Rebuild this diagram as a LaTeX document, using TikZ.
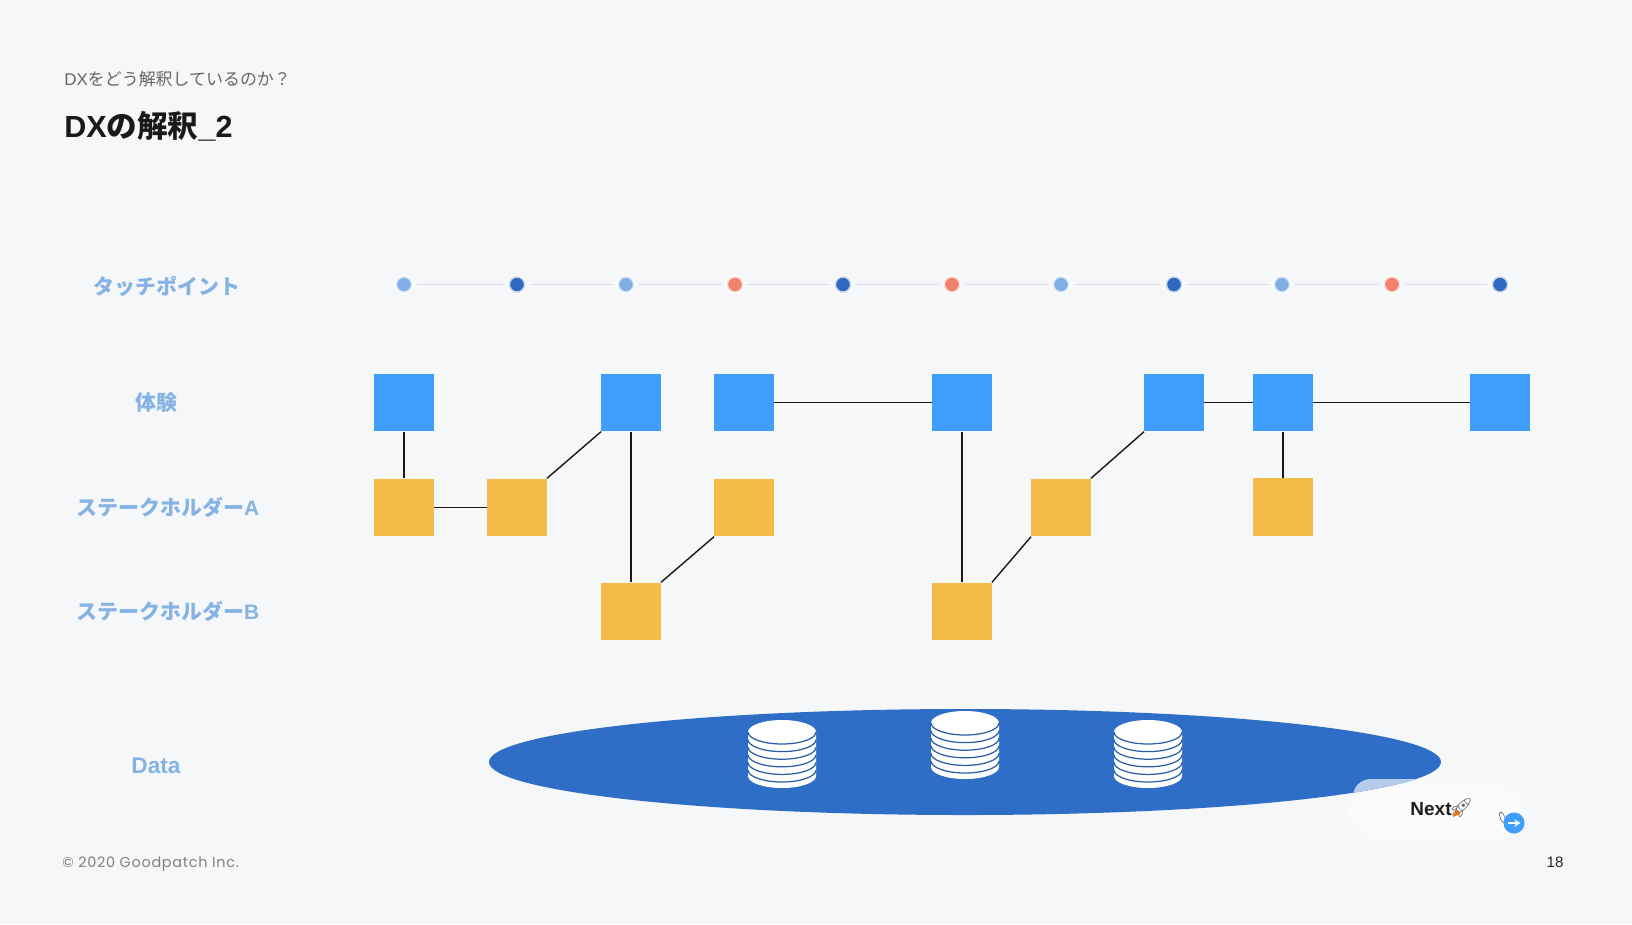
\documentclass[tikz,border=0pt]{standalone}
\usepackage{fontspec}
\setmainfont{Noto Sans CJK JP}
\newfontfamily\emojifont{Noto Emoji}
\newfontfamily\latinfont{Liberation Sans}
\newfontfamily\copyfont[LetterSpace=5]{Poppins}
\usetikzlibrary{arrows.meta}
\definecolor{bgcol}{HTML}{F6F7F8}
\definecolor{bluecol}{HTML}{3F9EFB}
\definecolor{yellowcol}{HTML}{F4BB49}
\definecolor{labelcol}{HTML}{86B2E4}
\definecolor{lightdot}{HTML}{80AEE5}
\definecolor{darkdot}{HTML}{2F68C0}
\definecolor{coraldot}{HTML}{F0826E}
\definecolor{poolcol}{HTML}{2F6EC6}
\definecolor{dotlinecol}{HTML}{D9DEEA}
\tikzset{
    bluebox/.style={fill=bluecol, minimum width=33.7pt, minimum height=32.8pt, inner sep=0pt},
    yellowbox/.style={fill=yellowcol, minimum width=33.7pt, minimum height=32.8pt, inner sep=0pt},
    touchdot/.style={circle, draw=white, draw opacity=0.75, line width=1.8pt, minimum size=9.6pt, inner sep=0pt},
    dotline/.style={draw=dotlinecol, line width=0.55pt, shorten >=1.5pt, shorten <=1.5pt},
    boxline/.style={draw=black!90, line width=0.8pt},
    rowlabel/.style={text=labelcol, font=\bfseries\fontsize{11.9}{14}\selectfont},
    datastack/.pic={
        \fill[white] (-34,-22) arc[start angle=180, end angle=360, x radius=34, y radius=12]
            -- (34,22) arc[start angle=0, end angle=180, x radius=34, y radius=12] -- cycle;
        \foreach \k in {0,...,5}
            \draw[poolcol!85!black, line width=0.7pt] (-34,{-22+7.6*\k}) arc[start angle=180, end angle=0, x radius=34, y radius=12];
    }
}
\begin{document}
\begin{tikzpicture}[x=0.02cm, y=-0.02cm]
    \fill[bgcol] (0,0) rectangle (1632,924);
    \useasboundingbox (0,0) rectangle (1632,924);

    % 見出し
    \node (subtitle) at (64,79) [anchor=west, inner sep=0pt, text=black!60, font=\fontsize{9.65}{12}\selectfont] {{\latinfont DX}をどう解釈しているのか？};
    \node (title) at (64,126) [anchor=west, inner sep=0pt, text=black!90, font=\bfseries\fontsize{17.4}{20}\selectfont] {{\latinfont DX}の解釈{\latinfont\_2}};

    % 行ラベル
    \node (labeltouch) at (167,286) [rowlabel] {タッチポイント};
    \node (labelexp) at (156,402.5) [rowlabel] {体験};
    \node (labela) at (168,507) [rowlabel] {ステークホルダー{\latinfont A}};
    \node (labelb) at (168,611) [rowlabel] {ステークホルダー{\latinfont B}};
    \node (labeldata) at (156,766) [rowlabel, font=\bfseries\latinfont\fontsize{12.9}{14}\selectfont] {Data};

    % タッチポイント
    \foreach \x/\c [count=\i] in {404/lightdot,517/darkdot,626/lightdot,735/coraldot,843/darkdot,952/coraldot,1061/lightdot,1174/darkdot,1282/lightdot,1392/coraldot,1500/darkdot}
        \node (dot\i) at (\x,284.5) [touchdot, fill=\c] {};
    \foreach \i [remember=\i as \j (initially 1)] in {2,...,11}
        \draw[dotline] (dot\j) -- (dot\i);

    % 体験
    \node (exp1) at (404,402.5) [bluebox] {};
    \node (exp2) at (631,402.5) [bluebox] {};
    \node (exp3) at (744,402.5) [bluebox] {};
    \node (exp4) at (962,402.5) [bluebox] {};
    \node (exp5) at (1174,402.5) [bluebox] {};
    \node (exp6) at (1283,402.5) [bluebox] {};
    \node (exp7) at (1500,402.5) [bluebox] {};

    % ステークホルダー
    \node (sa1) at (404,507.5) [yellowbox] {};
    \node (sa2) at (517,507.5) [yellowbox] {};
    \node (sa3) at (744,507.5) [yellowbox] {};
    \node (sa4) at (1061,507.5) [yellowbox] {};
    \node (sa5) at (1283,507) [yellowbox] {};
    \node (sb1) at (631,611.5) [yellowbox] {};
    \node (sb2) at (962,611.5) [yellowbox] {};

    \draw[boxline] (exp1) -- (sa1);
    \draw[boxline] (sa1) -- (sa2);
    \draw[boxline] (sa2.north east) -- (exp2.south west);
    \draw[boxline] (exp2) -- (sb1);
    \draw[boxline] (sb1.north east) -- (sa3.south west);
    \draw[boxline] (exp3) -- (exp4);
    \draw[boxline] (exp4) -- (sb2);
    \draw[boxline] (sb2.north east) -- (sa4.south west);
    \draw[boxline] (sa4.north east) -- (exp5.south west);
    \draw[boxline] (exp5) -- (exp6);
    \draw[boxline] (exp6) -- (sa5);
    \draw[boxline] (exp6) -- (exp7);

    % Next の白いぼかし
    \foreach \s in {0,2,...,18}
        \fill[white, opacity=0.2, rounded corners=20pt] ({1362-\s},{798-\s}) rectangle ({1510+\s},{824+\s});

    % Data
    \fill[poolcol] (965,762) ellipse [x radius=476, y radius=53];
    \begin{scope}
        \clip (965,762) ellipse [x radius=476, y radius=53];
        \fill[poolcol!35!white, rounded corners=10pt] (1353,779) rectangle (1460,830);
    \end{scope}
    \pic at (782,754) {datastack};
    \pic at (965,745) {datastack};
    \pic at (1148,754) {datastack};

    % Next
    \node (next) at (1431,809) [text=black!88, font=\bfseries\latinfont\fontsize{10.8}{13}\selectfont] {Next};
    \node (rocket) at (1461,808) [text=black!60, font=\emojifont\fontsize{11}{12}\selectfont, inner sep=0pt] {🚀};
    \fill[orange!85!red] (1453,817) -- (1456,810) -- (1460,814) -- cycle;
    \fill[white, draw=black!70, line width=0.3pt, rounded corners=1pt] (1499,812) -- (1502,812) -- (1506,819) -- (1505,823) -- (1501,821) -- cycle;
    \node (nextbtn) at (1514,823) [circle, fill=bluecol, minimum size=12pt, inner sep=0pt] {};
    \draw[white, line width=0.8pt, -{Stealth[length=3.4pt, width=4.4pt]}] ([xshift=-3.4pt]nextbtn.center) -- ([xshift=3.6pt]nextbtn.center);

    % フッター
    \node (copyright) at (62,864) [anchor=west, inner sep=0pt, text=black!50, font=\copyfont\fontsize{8.2}{10}\selectfont] {© 2020 Goodpatch Inc.};
    \node (pageno) at (1555,862) [text=black!85, font=\latinfont\fontsize{8.6}{10}\selectfont] {18};
\end{tikzpicture}
\end{document}
